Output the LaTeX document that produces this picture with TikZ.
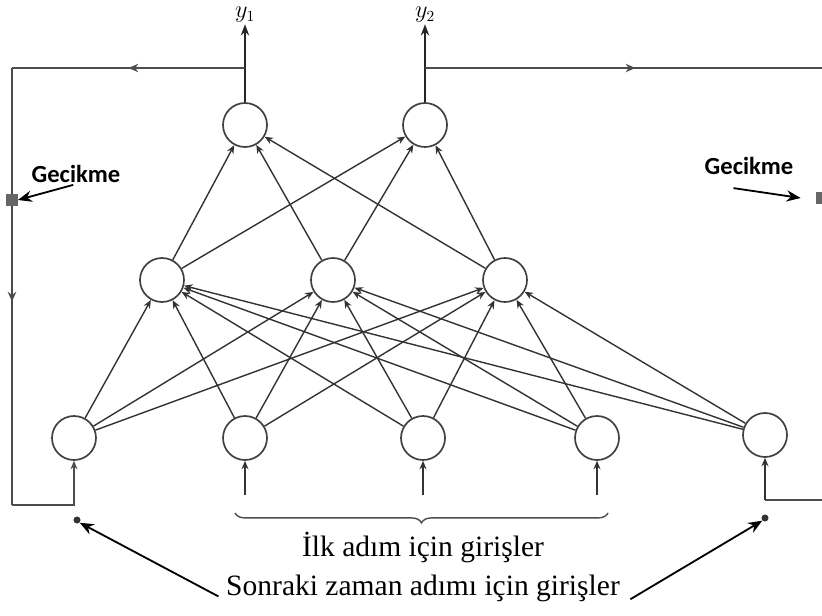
\documentclass[tikz,border=0pt]{standalone}
\usepackage{fontspec}
\setmainfont{Liberation Serif}
\newfontfamily\calibri{Carlito}
\usetikzlibrary{arrows.meta,positioning,decorations.pathreplacing,decorations.markings}

\begin{document}
\begin{tikzpicture}[
    neuron/.style={circle, draw=black!75, line width=1.2pt, minimum size=1.1cm, inner sep=0pt},
    conn/.style={-{Stealth[length=6pt,width=5pt]}, draw=black!80, line width=1pt},
    outarr/.style={-{Stealth[length=8pt,width=6pt]}, draw=black!85, line width=1.1pt},
    fb/.style={draw=black!70, line width=1pt},
    midarr/.style={postaction={decorate}, decoration={markings,
                   mark=at position #1 with {\arrow{Stealth[length=7pt,width=6pt]}}}},
    midarr/.default=0.5,
    note/.style={-{Stealth[length=10pt,width=8pt]}, line width=1.3pt},
    delay/.style={fill=black!60, minimum size=8pt, inner sep=0pt},
    dot/.style={circle, fill=black!80, minimum size=5pt, inner sep=0pt},
    lbl/.style={font=\calibri\bfseries\fontsize{17.5}{20}\selectfont},
    captxt/.style={font=\fontsize{21}{24}\selectfont}
  ]
  \useasboundingbox (0,0) rectangle (20.55,15.375);
  % Output layer
  \node[neuron] (o1) at (6.125,12.25) {};
  \node[neuron] (o2) at (10.625,12.25) {};
  % Hidden layer
  \node[neuron] (h1) at (4.05,8.375) {};
  \node[neuron] (h2) at (8.325,8.375) {};
  \node[neuron] (h3) at (12.625,8.375) {};
  % Input layer (i1 and i5 are fed back)
  \node[neuron] (i1) at (1.85,4.425) {};
  \node[neuron] (i2) at (6.125,4.425) {};
  \node[neuron] (i3) at (10.575,4.425) {};
  \node[neuron] (i4) at (14.925,4.425) {};
  \node[neuron] (i5) at (19.125,4.5) {};
  % Weights
  \foreach \i in {1,...,5}
    \foreach \h in {1,2,3}
      \draw[conn] (i\i) -- (h\h);
  \foreach \h in {1,2,3}
    \foreach \o in {1,2}
      \draw[conn] (h\h) -- (o\o);
  % Outputs
  \node[inner sep=1pt, font=\fontsize{16}{18}\selectfont] (y1) at (6.125,15.0) {$y_1$};
  \node[inner sep=1pt, font=\fontsize{16}{18}\selectfont] (y2) at (10.625,15.0) {$y_2$};
  \draw[outarr] (o1) -- (y1);
  \draw[outarr] (o2) -- (y2);
  % Feedback loops
  \coordinate (t1) at (6.125,13.675);
  \coordinate (t2) at (10.625,13.675);
  \coordinate (lt) at (0.3,13.675);
  \coordinate (lb) at (0.3,2.75);
  \coordinate (lf) at (1.85,2.75);
  \coordinate (rt) at (20.55,13.675);
  \coordinate (rb) at (20.55,2.875);
  \coordinate (rf) at (19.125,2.875);
  \node[delay] (d1) at (0.3,10.375) {};
  \node[delay] (d2) at (20.55,10.425) {};
  \draw[fb,midarr] (t1) -- (lt);
  \draw[fb] (lt) -- (d1);
  \draw[fb,midarr=0.32] (d1) -- (lb);
  \draw[fb,-{Stealth[length=6pt,width=5pt]}] (lb) -- (lf) -- (i1);
  \draw[fb,midarr=0.53] (t2) -- (rt);
  \draw[fb] (rb) -- (rf);
  \draw[conn] (rf) -- (i5);
  % External inputs
  \coordinate (s2) at (6.125,3.0);
  \coordinate (s3) at (10.575,3.0);
  \coordinate (s4) at (14.925,3.0);
  \draw[conn] (s2) -- (i2);
  \draw[conn] (s3) -- (i3);
  \draw[conn,line width=1.6pt] (s4) -- (i4);
  \node[dot] (n1) at (1.925,2.375) {};
  \node[dot] (n5) at (19.125,2.425) {};
  % Brace and captions
  \coordinate (b1) at (5.875,2.55);
  \coordinate (b2) at (15.2,2.55);
  \draw[fb, decorate, decoration={brace, amplitude=7pt, mirror}] (b1) -- (b2);
  \node[captxt] (ilk) at (10.575,1.675) {İlk adım için girişler};
  \node[captxt] (sonraki) at (10.575,0.675) {Sonraki zaman adımı için girişler};
  \draw[note] ([xshift=-2pt,yshift=-6pt]sonraki.west) -- (n1.south east);
  \draw[note] ([xshift=4pt,yshift=-8pt]sonraki.east) -- (n5.south west);
  % Delay labels
  \node[lbl] (g1) at (1.9,11.025) {Gecikme};
  \node[lbl] (g2) at (18.725,11.225) {Gecikme};
  \draw[note] ([xshift=-2pt,yshift=2pt]g1.south) -- (d1.east);
  \draw[note] ([xshift=-11pt,yshift=-6pt]g2.south) -- ([xshift=-11pt]d2.west);
\end{tikzpicture}
\end{document}
